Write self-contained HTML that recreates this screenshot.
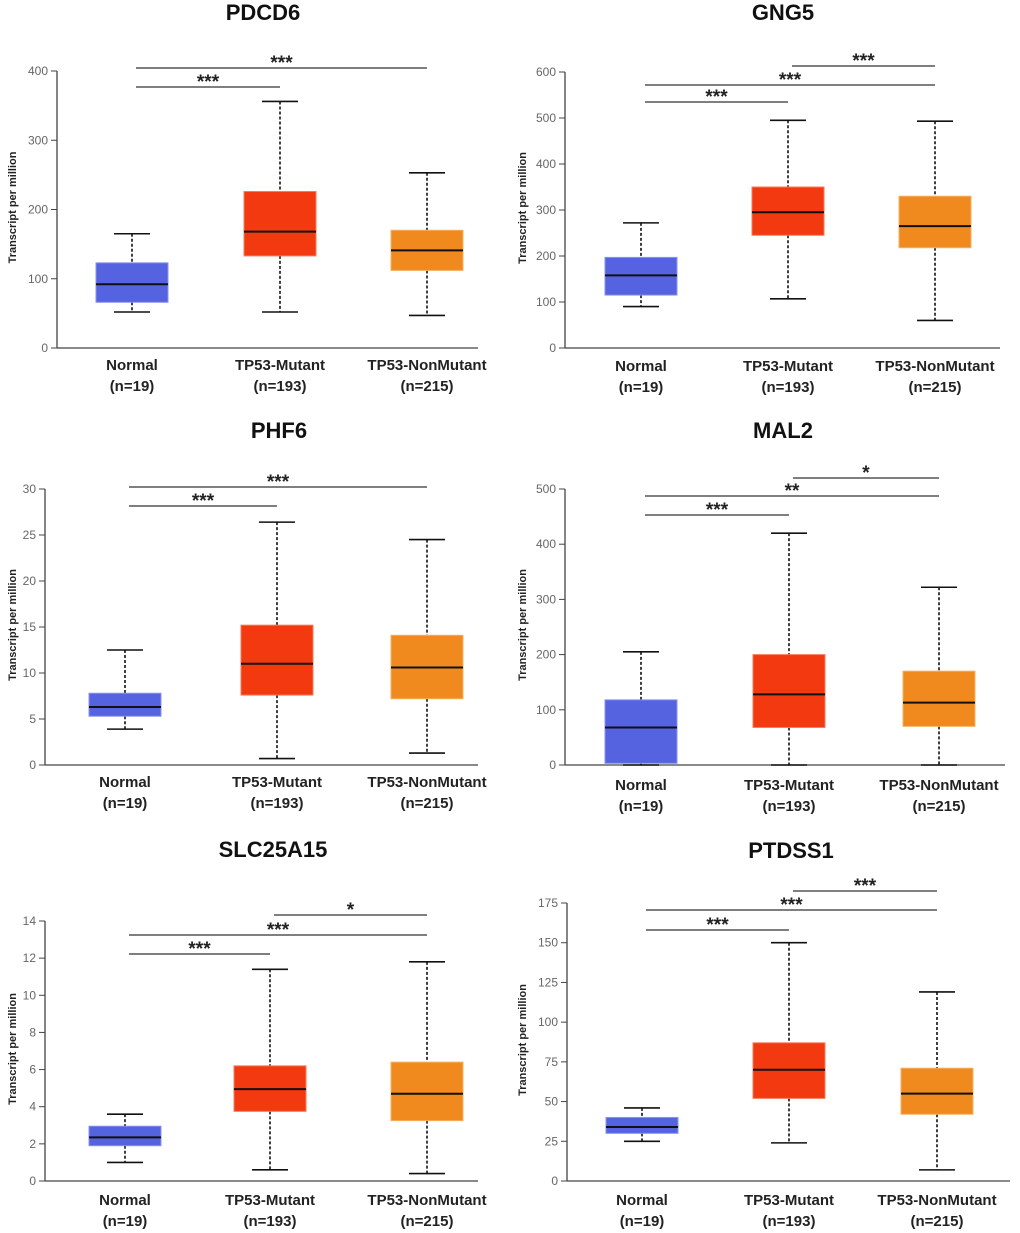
<!DOCTYPE html>
<html><head><meta charset="utf-8"><style>
body{margin:0;background:#fff;width:1020px;height:1233px;overflow:hidden}
svg{display:block}
text{font-family:"Liberation Sans",Arial,sans-serif}
</style></head><body>
<svg id="chart" width="1020" height="1233" viewBox="0 0 1020 1233" xmlns="http://www.w3.org/2000/svg"></svg>
<script>
const categories = ["Normal","TP53-Mutant","TP53-NonMutant"];
const sampleSizes = ["(n=19)","(n=193)","(n=215)"];
const genes = ["PDCD6","GNG5","PHF6","MAL2","SLC25A15","PTDSS1"];
const yMaxes = [400,600,30,500,14,175];
const yTickValues = [[0,100,200,300,400],[0,100,200,300,400,500,600],[0,5,10,15,20,25,30],[0,100,200,300,400,500],[0,2,4,6,8,10,12,14],[0,25,50,75,100,125,150,175]];
// [min,q1,median,q3,max] per group
const pdcd6 = [[52,66,92,123,165],[52,133,168,226,356],[47,112,141,170,253]];
const gng5 = [[90,115,158,197,272],[107,245,295,350,495],[60,218,265,330,493]];
const phf6 = [[3.9,5.3,6.3,7.8,12.5],[0.7,7.6,11,15.2,26.4],[1.3,7.2,10.6,14.1,24.5]];
const mal2 = [[0,3,68,118,205],[0,68,128,200,420],[0,70,113,170,322]];
const slc25a15 = [[1,1.9,2.35,2.95,3.6],[0.6,3.75,4.95,6.2,11.4],[0.4,3.25,4.7,6.4,11.8]];
const ptdss1 = [[25,30,34,40,46],[24,52,70,87,150],[7,42,55,71,119]];
const boxStats = [pdcd6,gng5,phf6,mal2,slc25a15,ptdss1];
// significance: [fromGroup,toGroup,label]
const sigLabels = [
 [[0,1,"***"],[0,2,"***"]],
 [[0,1,"***"],[0,2,"***"],[1,2,"***"]],
 [[0,1,"***"],[0,2,"***"]],
 [[0,1,"***"],[0,2,"**"],[1,2,"*"]],
 [[0,1,"***"],[0,2,"***"],[1,2,"*"]],
 [[0,1,"***"],[0,2,"***"],[1,2,"***"]]
];
// layout (not data)
const layout = [
 {ax:57,tX:12,y0:348,yTop:71,cx:[132,280,427],axEnd:478,tx:263,ty:20,ly:370,sigY:[87,68]},
 {ax:565,tX:522,y0:348,yTop:72,cx:[641,788,935],axEnd:1000,tx:783,ty:20,ly:371,sigY:[102,85,66]},
 {ax:45,tX:12,y0:765,yTop:489,cx:[125,277,427],axEnd:478,tx:279,ty:438,ly:787,sigY:[506,487]},
 {ax:565,tX:522,y0:765,yTop:489,cx:[641,789,939],axEnd:1005,tx:783,ty:438,ly:790,sigY:[515,496,478]},
 {ax:45,tX:12,y0:1181,yTop:921,cx:[125,270,427],axEnd:478,tx:273,ty:857,ly:1205,sigY:[954,935,915]},
 {ax:567,tX:522,y0:1181,yTop:903,cx:[642,789,937],axEnd:1010,tx:791,ty:858,ly:1205,sigY:[930,910,891]}
];
const colors=["#5563e0","#f2390f","#f08a1e"];
const strokes=["#8a93f0","#f77a5a","#f5b060"];
const NS="http://www.w3.org/2000/svg";
const svg=document.getElementById("chart");
function mk(tag,attrs,parent,txt){const e=document.createElementNS(NS,tag);for(const k in attrs)e.setAttribute(k,attrs[k]);if(txt!==undefined)e.textContent=txt;parent.appendChild(e);return e;}
genes.forEach((g,p)=>{
 const L=layout[p];
 const yS=v=>L.y0-(v/yMaxes[p])*(L.y0-L.yTop);
 const grp=mk("g",{},svg);
 
 
 const t=mk("text",{x:L.tx,y:L.ty,"text-anchor":"middle","font-size":"22","font-weight":"bold",fill:"#111"},grp,g);
 
 
 const ya=mk("line",{x1:L.ax,y1:L.yTop,x2:L.ax,y2:L.y0,stroke:"#444","stroke-width":"1.3"},grp);
 
 
 const xa=mk("line",{x1:L.ax,y1:L.y0,x2:L.axEnd,y2:L.y0,stroke:"#444","stroke-width":"1.3"},grp);
 
 
 yTickValues[p].forEach(v=>{
  mk("line",{x1:L.ax-6,y1:yS(v),x2:L.ax,y2:yS(v),stroke:"#444","stroke-width":"1"},grp);
  const tl=mk("text",{x:L.ax-9,y:yS(v)+4,"text-anchor":"end","font-size":"12",fill:"#666"},grp,v);
  
  
 });
 const ymid=(L.y0+L.yTop)/2;
 const yt=mk("text",{x:0,y:0,transform:`translate(${L.tX+4},${ymid-2}) rotate(-90)`,"text-anchor":"middle","font-size":"11","font-weight":"bold",fill:"#222"},grp,"Transcript per million");
 
 
 boxStats[p].forEach((s,i)=>{
  const cx=L.cx[i],bw=72,cw=36;
  const [mn,q1,md,q3,mx]=s.map(yS);
  mk("line",{x1:cx,y1:mx,x2:cx,y2:q3,stroke:"#111","stroke-width":"1.6","stroke-dasharray":"3,2"},grp);
  mk("line",{x1:cx,y1:q1,x2:cx,y2:mn,stroke:"#111","stroke-width":"1.6","stroke-dasharray":"3,2"},grp);
  mk("line",{x1:cx-cw/2,y1:mx,x2:cx+cw/2,y2:mx,stroke:"#111","stroke-width":"1.6"},grp);
  mk("line",{x1:cx-cw/2,y1:mn,x2:cx+cw/2,y2:mn,stroke:"#111","stroke-width":"1.6"},grp);
  const b=mk("rect",{x:cx-bw/2,y:q3,width:bw,height:Math.max(1,q1-q3),fill:colors[i],stroke:strokes[i],"stroke-width":"1"},grp);
  
  
  mk("line",{x1:cx-bw/2,y1:md,x2:cx+bw/2,y2:md,stroke:"#111","stroke-width":"2"},grp);
  const c1=mk("text",{x:cx,y:L.ly,"text-anchor":"middle","font-size":"15","font-weight":"bold",fill:"#222"},grp,categories[i]);
  
  
  const c2=mk("text",{x:cx,y:L.ly+21,"text-anchor":"middle","font-size":"15","font-weight":"bold",fill:"#222"},grp,sampleSizes[i]);
  
  
 });
 sigLabels[p].forEach((sg,k)=>{
  const x1=L.cx[sg[0]]+4,x2=L.cx[sg[1]],y=L.sigY[k];
  mk("line",{x1:x1,y1:y,x2:x2,y2:y,stroke:"#333","stroke-width":"1.2"},grp);
  const st=mk("text",{x:(x1+x2)/2,y:y+1,"text-anchor":"middle","font-size":"19","font-weight":"bold",fill:"#222"},grp,sg[2]);
  
  
 });
});
</script>
</body></html>
